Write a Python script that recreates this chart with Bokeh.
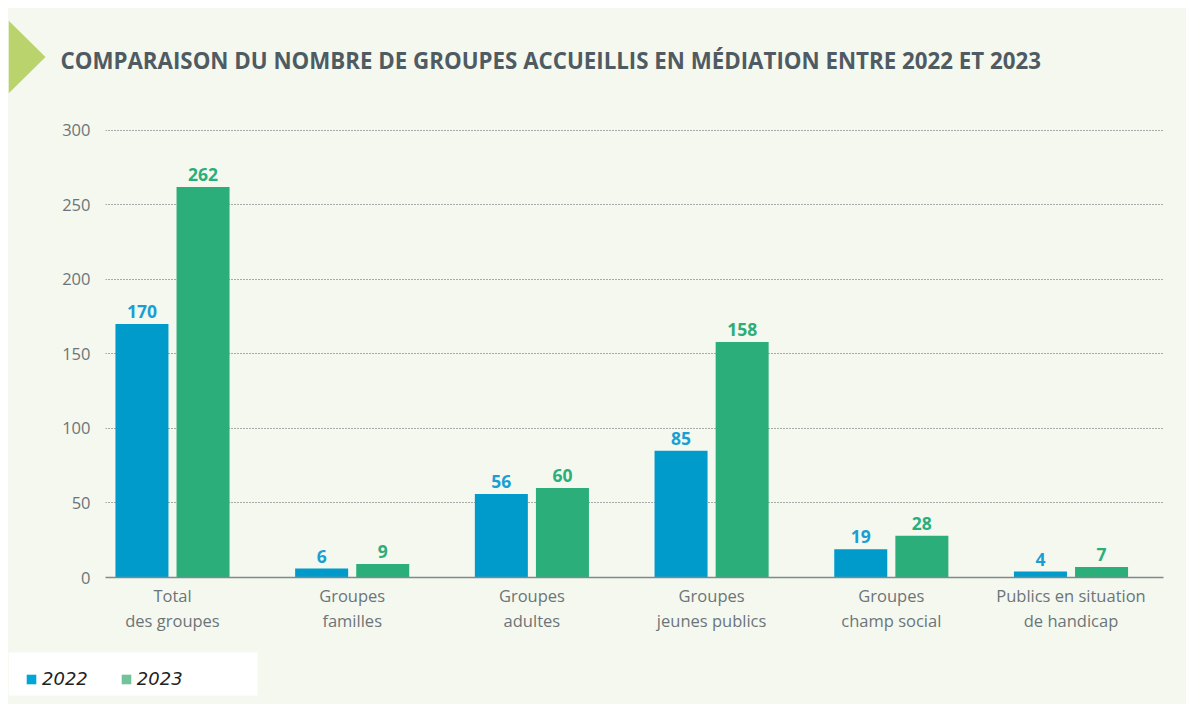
from bokeh.plotting import figure
from bokeh.layouts import column, row
from bokeh.models import (Range1d, FixedTicker, Legend, LegendItem, ColumnDataSource, Spacer)
from bokeh.core.properties import value
from bokeh.embed import file_html
from bokeh.resources import INLINE

categories = ["Total\ndes groupes", "Groupes\nfamilles", "Groupes\nadultes",
              "Groupes\njeunes publics", "Groupes\nchamp social",
              "Publics en situation\nde handicap"]
v2022 = [170, 6, 56, 85, 19, 4]
v2023 = [262, 9, 60, 158, 28, 7]
years = ["2022", "2023"]
y_ticks = [0, 50, 100, 150, 200, 250, 300]
title_text = "COMPARAISON DU NOMBRE DE GROUPES ACCUEILLIS EN MÉDIATION ENTRE 2022 ET 2023"

BG = "#f5f8ef"
BLUE = "#009bcb"
GREEN = "#2bae7a"
GREY = "#6b7579"
FONT = "Open Sans"
W = 1178

# ---------- header: marker triangle + title ----------
header = figure(width=W, height=92, output_backend="svg", toolbar_location=None,
                x_range=Range1d(0, W), y_range=Range1d(92, 0),
                min_border=0, background_fill_color=BG, border_fill_color=BG,
                outline_line_color=None)
header.frame_align = False
header.axis.visible = False
header.grid.visible = False
header.patch(x=[0, 0, 37], y=[12, 85, 48.5], fill_color="#bad36c", line_color=None)
header.text(x=[52], y=[52], text=[title_text], text_font=value(FONT), text_font_style="bold",
            text_font_size="22.3px", text_color="#4f5b63", text_baseline="middle")

# ---------- main chart ----------
xs = list(range(len(categories)))
off = 0.17
src = ColumnDataSource(dict(
    x1=[x - off for x in xs], x2=[x + off for x in xs],
    v1=v2022, v2=v2023,
    t1=[str(v) for v in v2022], t2=[str(v) for v in v2023],
))

p = figure(width=W, height=540, output_backend="svg", toolbar_location=None,
           x_range=Range1d(-0.3728, 5.5147), y_range=Range1d(0, 320),
           min_border_left=97, min_border_right=23, min_border_top=0, min_border_bottom=63,
           background_fill_color=BG, border_fill_color=BG, outline_line_color=None)
p.frame_align = False

p.vbar(x="x1", top="v1", width=0.295, source=src, color=BLUE, line_color=None)
p.vbar(x="x2", top="v2", width=0.295, source=src, color=GREEN, line_color=None)
p.text(x="x1", y="v1", text="t1", source=src, text_align="center", text_baseline="bottom",
       y_offset=-6, text_font=value(FONT), text_font_style="bold", text_font_size="17.5px",
       text_color="#1a9fd3")
p.text(x="x2", y="v2", text="t2", source=src, text_align="center", text_baseline="bottom",
       y_offset=-6, text_font=value(FONT), text_font_style="bold", text_font_size="17.5px",
       text_color=GREEN)

p.yaxis.ticker = FixedTicker(ticks=y_ticks)
p.yaxis.axis_line_color = None
p.yaxis.major_tick_line_color = None
p.yaxis.minor_tick_line_color = None
p.yaxis.major_tick_out = 0
p.yaxis.major_tick_in = 0
p.yaxis.major_label_standoff = 15
p.yaxis.major_label_text_font = FONT
p.yaxis.major_label_text_font_size = "16.5px"
p.yaxis.major_label_text_color = GREY

p.xaxis.ticker = FixedTicker(ticks=xs)
p.xaxis.major_label_overrides = {i: c for i, c in enumerate(categories)}
p.xaxis.axis_line_color = "#7f8a8a"
p.xaxis.axis_line_width = 1.5
p.xaxis.major_tick_line_color = None
p.xaxis.minor_tick_line_color = None
p.xaxis.major_tick_out = 0
p.xaxis.major_tick_in = 0
p.xaxis.major_label_standoff = 6
p.xaxis.major_label_text_font = FONT
p.xaxis.major_label_text_font_size = "16.5px"
p.xaxis.major_label_text_line_height = 1.1
p.xaxis.major_label_text_color = GREY

p.xgrid.grid_line_color = None
p.ygrid.grid_line_color = "#555f60"
p.ygrid.grid_line_dash = "1 2"
p.ygrid.grid_line_width = 1

# ---------- footer: legend ----------
footer = figure(width=W, height=64, output_backend="svg", toolbar_location=None,
                x_range=Range1d(0, W), y_range=Range1d(64, 0),
                min_border=0, background_fill_color=BG, border_fill_color=BG,
                outline_line_color=None)
footer.frame_align = False
footer.axis.visible = False
footer.grid.visible = False
footer.quad(left=[0], right=[249], top=[12], bottom=[55], fill_color="white", line_color=None)
# zero-size legend proxies (nothing visible in the plot area)
r1 = footer.vbar(x=[0], top=[0], bottom=[0], width=0, color="#00a6d8", line_color=None)
r2 = footer.vbar(x=[0], top=[0], bottom=[0], width=0, color="#72c29a", line_color=None)
leg = Legend(items=[LegendItem(label=years[0], renderers=[r1]),
                    LegendItem(label=years[1], renderers=[r2])],
             location=(17, 15), orientation="horizontal",
             background_fill_alpha=0, border_line_color=None,
             padding=8, glyph_width=12, glyph_height=12, label_height=12,
             label_standoff=5, spacing=32, label_text_font="DejaVu Sans",
             label_text_font_style="italic", label_text_font_size="18px",
             label_text_color="#222222")
footer.add_layout(leg)

inner = column(header, p, footer, spacing=0, styles={"background-color": BG})
layout = column(Spacer(height=8), row(Spacer(width=8), inner, spacing=0), spacing=0)

open("out.html", "w").write(file_html(layout, INLINE))
